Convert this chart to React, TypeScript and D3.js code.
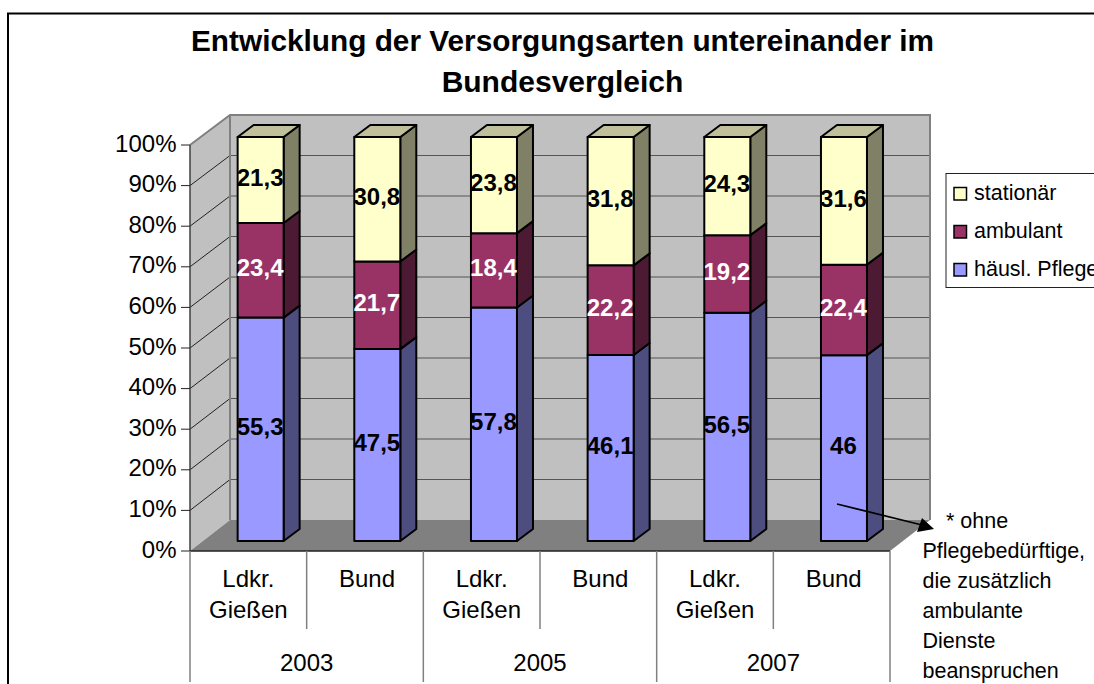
import React from "react";
import * as d3 from "d3";

const titleLines = ["Entwicklung der Versorgungsarten untereinander im", "Bundesvergleich"];
const categories = ["Ldkr. Gießen", "Bund", "Ldkr. Gießen", "Bund", "Ldkr. Gießen", "Bund"];
const years = ["2003", "2005", "2007"];
const pflege = [55.3, 47.5, 57.8, 46.1, 56.5, 46];
const ambulant = [23.4, 21.7, 18.4, 22.2, 19.2, 22.4];
const stationaer = [21.3, 30.8, 23.8, 31.8, 24.3, 31.6];
const seriesKeys = ["pflege", "ambulant", "stationaer"];
const legendNames = ["stationär", "ambulant", "häusl. Pflege"];
const noteLines = ["* ohne", "Pflegebedürftige,", "die zusätzlich", "ambulante", "Dienste", "beanspruchen"];
const yTicks = [0, 0.1, 0.2, 0.3, 0.4, 0.5, 0.6, 0.7, 0.8, 0.9, 1];

const font = "'Liberation Sans', Arial, sans-serif";
const colors: Record<string, { front: string; side: string; top: string; text: string }> = {
  pflege: { front: "#9999ff", side: "#4d4d80", top: "#c0c0ff", text: "#000" },
  ambulant: { front: "#993366", side: "#4d1a33", top: "#c08098", text: "#fff" },
  stationaer: { front: "#ffffcc", side: "#808066", top: "#c0c09a", text: "#000" },
};

const rows = categories.map((c, i) => ({
  i: String(i),
  pflege: pflege[i],
  ambulant: ambulant[i],
  stationaer: stationaer[i],
}));
const stacked = d3.stack<any>().keys(seriesKeys).offset(d3.stackOffsetExpand)(rows);
const raw: Record<string, number[]> = { pflege, ambulant, stationaer };

// Axes on the front plane of the 3D box
const x0 = 190, x1 = 890, floorY = 551, topY = 145;
const wallDx = 40, wallDy = -31;
const x = d3.scaleBand<string>().domain(categories.map((_, i) => String(i))).range([x0, x1]);
const y = d3.scaleLinear().domain([0, 1]).range([floorY, topY]);
const yBack = d3.scaleLinear().domain([0, 1]).range([floorY + wallDy, 115]);
const yBar = d3.scaleLinear().domain([0, 1]).range([541, 137]);
const barW = 46, barDx = 16, barDy = -12, barShift = 12.3;

const pts = (p: number[][]) => p.map((q) => q.join(",")).join(" ");

export default function App() {
  const wallL = x0 + wallDx, wallR = x1 + wallDx;
  const step = x.bandwidth();
  const sep = (i: number) => x0 + step * i;
  const textProps = { fontFamily: font, fill: "#000" };
  return (
    <svg
      width={1094}
      height={684}
      viewBox="0 0 1094 684"
      style={{ position: "absolute", left: 0, top: 0, display: "block", background: "#fff" }}
    >
      <path d="M8,684V13.5H1094" fill="none" stroke="#000" strokeWidth={2} />
      {titleLines.map((t, i) => (
        <text key={t} x={562.5} y={51 + i * 41} textAnchor="middle" fontSize={30} fontWeight="bold" {...textProps}>
          {i === 0 ? <tspan textLength={743} lengthAdjust="spacingAndGlyphs">{t}</tspan> : t}
        </text>
      ))}

      {/* walls and floor */}
      <polygon points={pts([[wallL, yBack(1)], [wallR, yBack(1)], [wallR, yBack(0)], [wallL, yBack(0)]])} fill="#c0c0c0" />
      <polygon points={pts([[x0, y(0)], [wallL, yBack(0)], [wallL, yBack(1)], [x0, y(1)]])} fill="#c0c0c0" />
      <polygon points={pts([[x0, y(0)], [wallL, yBack(0)], [wallR, yBack(0)], [x1, y(0)]])} fill="#808080" />
      {yTicks.slice(1, -1).map((t) => (
        <g key={t} stroke="#333" strokeWidth={1}>
          <line x1={wallL} x2={wallR} y1={yBack(t)} y2={yBack(t)} stroke="#555" />
          <line x1={x0} x2={wallL} y1={y(t)} y2={yBack(t)} stroke="#222" />
        </g>
      ))}
      <polyline points={pts([[x0, y(1)], [wallL, yBack(1)], [wallR, yBack(1)], [wallR, yBack(0)]])} fill="none" stroke="#808080" strokeWidth={2} />
      <line x1={wallL} x2={wallL} y1={yBack(1)} y2={yBack(0)} stroke="#808080" strokeWidth={2} />

      {/* axis */}
      <line x1={x0} x2={x0} y1={y(1)} y2={y(0)} stroke="#404040" strokeWidth={1.5} />
      <line x1={x0} x2={x1} y1={y(0)} y2={y(0)} stroke="#222" strokeWidth={1.5} />
      {yTicks.map((t) => (
        <g key={t}>
          <line x1={x0 - 9} x2={x0} y1={y(t)} y2={y(t)} stroke="#222" strokeWidth={1} />
          <text x={176.5} y={y(t) + 6.5} textAnchor="end" fontSize={24} {...textProps}>
            {d3.format(".0%")(t)}
          </text>
        </g>
      ))}

      {/* category separators */}
      {[0, 1, 2, 3, 4, 5, 6].map((i) => (
        <line key={i} x1={sep(i)} x2={sep(i)} y1={y(0)} y2={i % 2 === 0 ? 682 : 629} stroke="#808080" strokeWidth={1.5} />
      ))}
      {categories.map((c, i) => {
        const cx = sep(i) + step / 2 + (i % 2 === 0 ? 0 : 2);
        return (
          <text key={i} x={cx} y={587} textAnchor="middle" fontSize={24} {...textProps}>
            {c.split(" ").map((w, j) => (
              <tspan key={j} x={cx} y={587 + j * 31}>
                {w}
              </tspan>
            ))}
          </text>
        );
      })}
      {years.map((yr, i) => (
        <text key={yr} x={sep(i * 2 + 1)} y={671} textAnchor="middle" fontSize={24} {...textProps}>
          {yr}
        </text>
      ))}

      {/* bars */}
      {categories.map((_, i) => {
        const l = x(String(i))! + (step - barW) / 2 + barShift;
        const r = l + barW;
        return (
          <g key={i} stroke="#000" strokeWidth={2} strokeLinejoin="round">
            {stacked.map((s) => {
              const c = colors[s.key];
              const yb = yBar(s[i][0]);
              const yt = yBar(s[i][1]);
              return (
                <g key={s.key}>
                  <polygon points={pts([[r, yb], [r + barDx, yb + barDy], [r + barDx, yt + barDy], [r, yt]])} fill={c.side} />
                  {s.key === "stationaer" && (
                    <polygon points={pts([[l, yt], [l + barDx, yt + barDy], [r + barDx, yt + barDy], [r, yt]])} fill={c.top} />
                  )}
                  <rect x={l} y={yt} width={barW} height={yb - yt} fill={c.front} />
                </g>
              );
            })}
          </g>
        );
      })}
      {/* labels */}
      {stacked.map((s) =>
        categories.map((_, i) => {
          const l = x(String(i))! + (step - barW) / 2 + barShift;
          const my = yBar((s[i][0] + s[i][1]) / 2);
          return (
            <text
              key={s.key + i}
              x={l + barW / 2 - 0.5}
              y={my + 6}
              textAnchor="middle"
              fontFamily={font}
              fontSize={24}
              fontWeight="bold"
              fill={colors[s.key].text}
            >
              {String(raw[s.key][i]).replace(".", ",")}
            </text>
          );
        })
      )}

      {/* legend */}
      <rect x={946} y={173.5} width={160} height={114} fill="#fff" stroke="#222" strokeWidth={1} />
      {["stationaer", "ambulant", "pflege"].map((k, i) => (
        <g key={k}>
          <rect x={954} y={187.5 + i * 38} width={12.5} height={12.5} fill={colors[k].front} stroke="#000" strokeWidth={1.5} />
          <text x={974} y={199.5 + i * 38} fontSize={21.5} {...textProps}>
            {legendNames[i]}
          </text>
        </g>
      ))}

      {/* note and arrow */}
      {noteLines.map((t, i) => (
        <text key={t} x={i === 0 ? 946 : 922.5} y={528 + i * 30} fontSize={21.5} {...textProps}>
          {t}
        </text>
      ))}
      <line x1={837} y1={504} x2={922} y2={525} stroke="#000" strokeWidth={1.8} />
      <polygon points="934,529 922,518 917,532" fill="#000" />
    </svg>
  );
}
